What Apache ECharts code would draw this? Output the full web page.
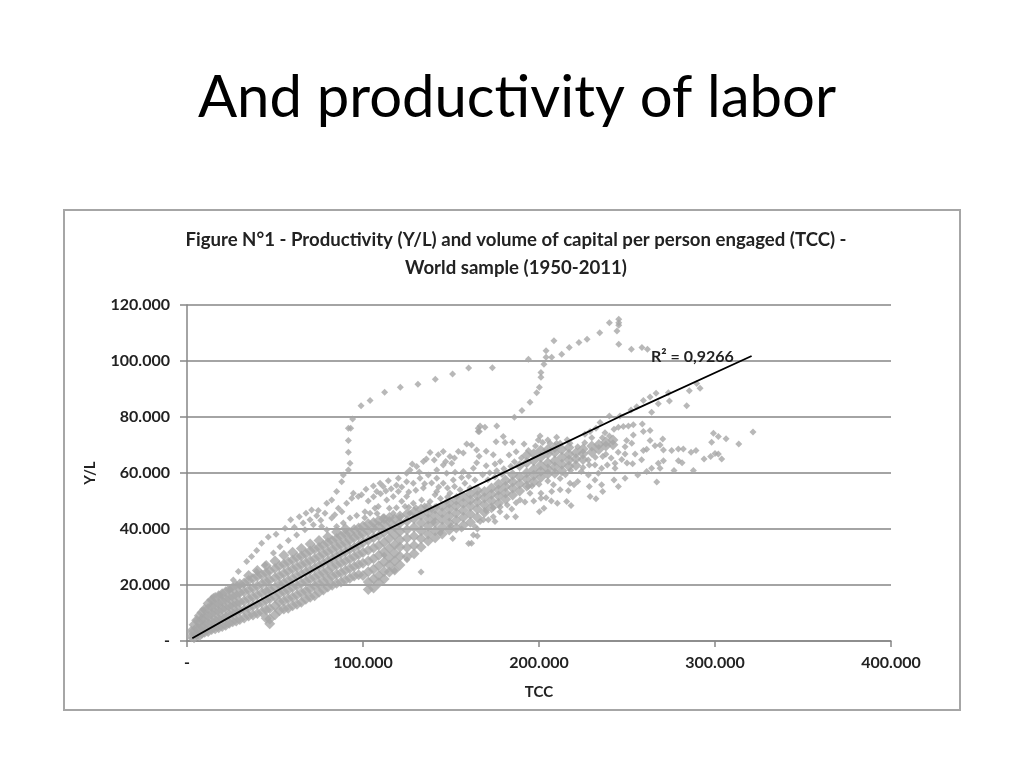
<!DOCTYPE html>
<html><head><meta charset="utf-8">
<style>html,body{margin:0;padding:0;background:#fff}#c{width:1024px;height:768px}</style>
<script src="https://cdn.jsdelivr.net/npm/echarts@6/dist/echarts.min.js"></script>
</head><body><div id="c"></div>
<script>
const slideTitle = "And productivity of labor";
const figureTitle = "Figure N°1 - Productivity (Y/L) and volume of capital per person engaged (TCC) -\nWorld sample (1950-2011)";
const xName = "TCC", yName = "Y/L", r2Text = "R² = 0,9266";
const xTickLabels = ["-", "100.000", "200.000", "300.000", "400.000"];
const yTickLabels = ["-", "20.000", "40.000", "60.000", "80.000", "100.000", "120.000"];
const trendLine = [[3,1],[25,8.8],[50,17.5],[100,35.5],[150,51],[200,66.3],[246,80.2],[320.8,101.8]];

// columns of the dense mass: x followed by the y values seen in that column
const denseColumns = [
[2.5,1.5,3.5],[4,1.2,3.6,5.8],[5.5,2.3,4.6,7.4],[7,1.9,4.2,6.7,9],[8.5,2.8,5.3,7.9,10.2],[10,3.1,5.7,8.4,11.3],
[12,3.4,6.1,8.8,11.6,13.4],[14,4.1,6.9,9.7,12.3,14.6],[16,4.4,7.2,10.1,12.9,15.5],[18,4.7,7.8,10.6,13.3,16.2],
[20,5.2,8.3,11.3,14.1,16.9],[22,5.6,8.6,11.7,14.8,17.6],[24,6.3,9.4,12.4,15.2,18.4],[26,6.9,9.8,12.7,15.9,19],
[28,7.1,10.3,13.4,16.4,19.7],[30,7.7,10.9,13.9,17.2,20.4],[32.5,8.2,11.2,14.3,17.6,20.7],[35,8.9,11.8,15.1,18.2,21.6,23.4],
[37.5,9.3,12.6,15.7,18.9,22.3],[40,9.8,13.1,16.4,19.6,23.1,25.2],[42.5,10.4,13.7,17.1,20.4,23.6],[45,8.1,11.2,14.6,17.8,21.2,24.4,27],
[47,6.2,7.9,11.6,15.1,18.4,21.8,25.1],[50,9.4,12.6,15.8,19.1,22.6,25.9,28.6],[52.5,10.8,13.9,16.9,20.2,23.3,26.8],
[55,11.4,14.3,17.6,20.7,24.1,27.4,30.6],[57.5,11.7,15.1,18.2,21.6,24.9,28.2],[60,12.6,15.6,19.1,22.3,25.7,28.9,31.7],
[62.5,13.1,16.4,19.7,23.2,26.4,29.8],[65,13.8,17.2,20.6,23.9,27.2,30.4,33],[67.5,14.9,17.9,21.3,24.6,27.9,31.2],
[70,15.6,18.7,22.1,25.4,28.7,32.1,34.6],[72.5,16.2,19.6,22.8,26.1,29.4,32.8],[75,17.4,20.4,23.7,26.9,30.2,33.4,35.9],
[77.5,18.2,21.3,24.4,27.8,31.1,34.2],[80,19.3,22.1,25.2,28.6,31.9,35.1,37.2],[82.5,19.9,23.1,26.3,29.4,32.7,35.8],
[85,20.6,23.8,27.1,30.3,33.6,36.6,38.9],[87.5,21.1,24.4,27.9,31.2,34.4,37.4],[90,21.8,25.2,28.6,31.9,35.1,38.2,40.1],
[92.5,22.4,25.9,29.3,32.8,36.1,38.7],[95,23.2,26.6,30.1,33.4,36.9,39.8],[97.5,23.7,27.3,30.9,34.2,37.7,40.4],
[100,23.4,27.8,31.6,35.2,38.3,41.1],[103,18.4,21.1,24.7,28.6,32.4,36,39.2,41.9],[106,18.9,22.1,25.6,29.4,33.2,36.9,40.1,42.3],
[109,20.8,23.4,26.9,30.6,34.1,37.6,40.9,43],[112,22.1,24.8,28.2,31.8,35.3,38.8,41.8,43.7],[115,24.6,27.1,29.8,33.2,36.6,39.7,42.7,44.1],
[118,25.4,28.6,31.4,34.4,37.9,40.9,43.6],[121,27.1,30.3,33.6,36.2,39.1,42.1,44.6],[125,30.1,33.4,36.7,39.7,42.9,45.4],
[129,31.2,34.1,37.4,40.6,43.7,46.1],[133,33.6,36.6,39.4,42.1,44.9,47.1],[137,35.7,38.2,41.1,43.6,45.9,47.8],
[141,36.9,39.4,42.3,44.7,47.2],[145,38.2,40.7,43.4,45.8,48.1],[149,39.6,42.1,44.6,47.1,49.3],[153,40.4,43.1,45.7,48.2,50.4],
[157,41.3,44.2,46.7,49.2,51.6],[161,42.4,45.4,48.1,50.4,52.6],[165,44.1,47.1,49.6,51.9,53.8],[169,45.9,48.7,51.2,53.4],
[173,47.6,50.1,52.4,54.6],[177,49.2,51.8,53.9,56.1],[181,50.6,52.9,55.2,57.4],[185,52.1,54.6,56.9,59.4],[189,53.6,56.2,58.7,62.6],
[193,55.4,57.8,60.1,63.7,66.3],[197,56.9,59.2,61.4,64.4,66.9],[201,58.4,60.6,62.8,65.6,68.1],[205,59.6,61.4,63.7,66.9,68.4],
[209,59.9,62.1,64.4,67.3,69.1],[213,60.8,63.1,65.6,68.4],[217,62.4,64.6,66.7,69.1],[221,62.7,65.1,67.2],[225,64.8,66.9,68.6],
[230,67.4,69.6],[234,68.4,70.2],[238,69.6,71.1],[242,70.1,71.8]
];

// upper strands and isolated marks
const strandSpike = [[5.5,7.6],[15,15.9],[26.3,21.8],[29.2,24.8],[33.9,28.4],[36.7,30.2],[39.6,32.3],[42.4,34.9],[46.2,37.1],[50.6,38.1],[55.7,40.3],[58.9,43.3],[63.8,44.4],[67.6,45.6],[70.8,46.8],[74.6,46.6],[79.4,49.2],[82.2,50.4],[85,53.4],[87.9,56.9],[88.8,59.3],[91.7,61.1],[92.6,63.5],[91.7,67.4],[91.7,71.6],[91.7,76],[93,76],[94.1,79.3],[98.9,84],[104,85.9],[112.3,88.8],[121.2,90.6],[131.2,91.7],[141.1,93.5],[150.9,95.4],[160,97.5],[173.5,97.6]];
const strandTop = [[186,79.9],[190.3,82.3],[194.9,85.3],[198.7,88.7],[200.2,90.6],[201.1,94.2],[201.1,95.9],[202.8,98.8],[204,101.3],[204,103.7],[194,100.6],[207.2,101.3],[208.5,107.2],[212.9,102.4],[217.2,104.8],[222.7,106.6],[227.3,107.8],[234.5,110.1],[240,113.7],[245.3,114.9],[245.3,113.7],[245.3,112.8],[244.3,110.7],[245.3,106],[252.5,104.2],[258.5,104.8],[261.6,104.2]];
const strandB = [[94.5,52.8],[99.2,52.2],[101.7,54.2],[105.9,55.4],[109.7,56.3],[114.4,57.2],[120.1,58.1],[124.8,59.9],[126.7,61.1],[130.5,62.3],[134.3,64.1],[138.1,67.3],[142.8,66.5],[145.6,67.7],[149.4,65.9],[154.2,67.7],[158.9,70.4],[161.7,70],[164.6,68.2],[165.5,76],[165.5,74.8],[136,65],[140.5,64.6],[147,64.1],[152,65.4],[157,67.1],[128,63.2],[132,60.4]];
const strandC = [[107.8,53.4],[111.5,55.2],[124.8,56.9],[128.6,56.3],[132.4,58.1],[137.1,59.3],[141.9,61.1],[145.6,62.9],[150.4,63.5],[147.5,59.9],[152.3,60.3],[157,60.5],[162.7,61.7],[164.6,63.7],[145.6,56.3],[151.3,57.5],[157.9,56.3],[163.6,57.5],[141.9,58.1],[134.3,54.6],[141.9,53.4],[140.9,52.2],[149.4,52.8],[155.1,54],[160.8,54.6],[120.1,53.4],[117.2,51.6],[113.5,50.4],[108.7,48],[124.8,51.6],[128.6,49.2],[133.3,50.4],[138.1,49.8],[141.9,48],[147.5,49.8],[153.2,51.6],[123.9,48],[117.2,45.6],[111.5,44.4],[121,44.4],[126.7,45.6]];
const strandD = [[69.9,43.3],[73.7,44.7],[78.4,45.6],[82.2,43.9],[86,47.4],[90.7,49.2],[93.6,51],[97.3,51.6],[79.4,39.7],[85,40.9],[88.8,42.1],[92.6,43.9],[96.4,44.8],[101.1,46.2],[106.8,47.4],[32,20],[39.6,24.8],[44.3,27.2],[49.1,31.4],[52.8,33.7],[57.6,35.9],[62.3,37.9],[67,39.7],[71.8,41.5],[76.5,40.9],[9.3,11.1],[14,14.7],[18.7,16.5],[24.4,18.3],[30.1,19.5],[84,45.1],[88,46.2],[76,43.1],[66,42.1],[61,40.6]];
const scatterRight = [[166.5,76.8],[169.3,76.3],[166.1,74.8],[176,76.8],[179.7,73],[175.6,71.2],[180.7,70.9],[185,71],[191.5,70.4],[200.6,73.2],[199.6,71.8],[202.1,70.9],[206.3,70.6],[210,72.8],[210,70.6],[217.6,70.6],[226.1,73.8],[229,74.8],[232.4,76],[234.7,78],[240,80.4],[246,80.4],[252.3,82.5],[255.5,83.7],[259.3,85.9],[263.1,87.1],[266.5,88.5],[267.8,84.7],[273.5,88.7],[274.1,85.7],[283.9,84],[285.4,89.4],[289.6,92],[291.5,90.3],[264,81.7],[242.6,75.6],[245.1,76.3],[247.9,76.6],[250.8,76.8],[253.6,77.2],[258.7,77.5],[237.5,74.4],[253.6,73.6],[259.3,74.8],[263.1,75.2],[270.3,72.1],[263.1,71.6],[268.8,70],[265.9,69.7],[270.7,68.2],[261.2,68.5],[259.3,68],[258.3,64.7],[253.2,63.3],[254.6,66.8],[248.9,69.4],[248.9,66.8],[249.8,71.6],[252.7,70.6],[275.4,68],[279.2,68.6],[282,68.6],[286.4,67.4],[289.2,68],[299.1,74.2],[301.9,73],[298.1,71],[306.3,72.2],[313.5,70.4],[321.6,74.6],[293.8,65],[297.5,65.9],[300,67],[301.9,66.8],[303.8,65],[279.2,64.4],[281.3,63.7],[276.7,60.9],[287.7,60.9],[266.9,56.8],[268.8,61.7],[270.7,64.4],[267.8,63.5],[264,61.7],[261.2,60.5],[256.1,59.3],[248.9,58.1],[242.6,57.5],[245.1,55.2],[243.2,63.5],[243.2,61.7],[238.8,62.9],[236.2,65.9],[235.6,61.7],[231.8,62.9],[228.6,62.9],[233.7,59.9],[231.8,57.5],[228.1,59.3],[228.6,55.2],[235.6,55.8],[236.2,53.4],[229,51.6],[232.4,50.8],[217.6,56.3],[219.9,55.8],[216.7,53.7],[208.2,55.8],[207.2,53.4],[210.4,49.2],[215.7,49.8],[218.2,48.4],[200.2,46.2],[202.8,47.4],[201.1,52.8],[201.1,51],[194.9,52.8],[193.9,55.2],[189.2,50.4],[184.5,47.1],[181.6,44.4],[186.7,44.4],[177.8,46.2],[174,44.4],[175,42.7],[171.2,43.3],[168.4,43.3],[166.5,42.7],[163.6,40.9],[162.7,37.9],[161.7,34.9]];
const scatterLow = [[125,29],[133,24.6],[151,36.6],[160,34.8],[165,37.5],[118,25.2],[112,30.6],[144,38.6],[150,41.2],[156,40],[140,42.4]];
const scatterMid = [[101,44],[104,45.6],[108,45.5],[103,50],[106,51.5],[110,52.6],[113,53.6],[116,54.4],[119,55.6],[122,55],[115,47.4],[119,47.6],[122,49.9],[126,53.2],[130,53.8],[135,56.2],[139,56.4],[143,55],[148,54.6],[152,55.2],[156,58.4],[160,58.8],[126,47.8],[130,47.6],[135,48.2],[139,47],[144,50.9],[148,51.4],[168,59.4],[172,60.1],[176,60.8],[180,61.5],[184,62.4],[171,57.6],[175,58.6],[179,59.5],[186,64],[190,65.4],[194,68],[198,69.6],[178,64.1],[183,66.4],[187,67.6],[175,63.2],[170,62.6],[166,66],[170,67.8],[174,66.5],[205,71.8],[212,70.6],[216,71.9],[222,69.4],[226,70.8],[230,72.6],[236,72.6],[240,73.2],[165,40],[170,46.5],[174,47.6],[178,47.9],[182,48.6],[187,49.4],[192,49.6],[197,50],[204,51.2],[207,50],[212,54],[222,57],[224,60.5],[215,59.4],[218,61],[212,58],[205,57.1],[200,56],[196,55.4],[225,62],[228,64.6],[232,65.6],[238,66.7],[241,65.4],[245,67.4],[247,64.8],[250,63.6]];

const xStep = 100000, yStep = 20000;
const k = v => v.map(p => [p[0]*1000, p[1]*1000]);
const denseData = [];
denseColumns.forEach(col => col.slice(1).forEach(y => denseData.push([col[0]*1000, y*1000])));
const sparseData = k([].concat(strandSpike, strandTop, strandB, strandC, strandD, scatterRight, scatterLow, scatterMid));

const FONT = "Lato";
const GREY = "#a6a6a6", AXIS = "#868686";
const chart = echarts.init(document.getElementById('c'), null, {renderer:'canvas'});
chart.setOption({
  animation:false,
  backgroundColor:'#fff',
  title:[
    {text:slideTitle,left:512,top:64,textAlign:'center',textStyle:{fontFamily:FONT,fontSize:58,fontWeight:'normal',color:'#000'}},
    {text:figureTitle,left:511,top:221,textAlign:'center',textStyle:{fontFamily:FONT,fontSize:18.6,fontWeight:'bold',color:'#222',lineHeight:28}}
  ],
  graphic:[
    {type:'rect',z:-1,shape:{x:64,y:210,width:896,height:500},style:{fill:'#fff',stroke:'#a6a6a6',lineWidth:2}},
    {type:'text',z:20,left:651,top:349,style:{text:r2Text,font:'bold 16px Lato',fill:'#222'}}
  ],
  grid:{left:187,top:305,width:704,height:336,containLabel:false},
  xAxis:{type:'value',min:0,max:400000,interval:xStep,name:xName,nameLocation:'middle',nameGap:44,
    nameTextStyle:{fontFamily:FONT,fontSize:15,fontWeight:'bold',color:'#222'},
    axisLine:{show:true,onZero:false,lineStyle:{color:AXIS,width:1.5}},
    axisTick:{show:true,length:6,lineStyle:{color:AXIS,width:1.5}},
    axisLabel:{margin:14,fontFamily:FONT,fontSize:16,fontWeight:'bold',color:'#222',formatter:(v)=>xTickLabels[Math.round(v/xStep)]},
    splitLine:{show:false}},
  yAxis:{type:'value',min:0,max:120000,interval:yStep,name:yName,nameLocation:'middle',nameGap:89,nameRotate:90,
    nameTextStyle:{fontFamily:FONT,fontSize:15,fontWeight:'bold',color:'#222'},
    axisLine:{show:true,onZero:false,lineStyle:{color:AXIS,width:1.5}},
    axisTick:{show:true,length:7,lineStyle:{color:AXIS,width:1.5}},
    axisLabel:{margin:17,fontFamily:FONT,fontSize:16,fontWeight:'bold',color:'#222',formatter:(v)=>yTickLabels[Math.round(v/yStep)]},
    splitLine:{show:true,lineStyle:{color:AXIS,width:1.5}}},
  series:[
    {type:'scatter',symbol:'diamond',symbolSize:11,data:denseData,itemStyle:{color:GREY},silent:true,z:3},
    {type:'scatter',symbol:'diamond',symbolSize:7,data:sparseData,itemStyle:{color:GREY},silent:true,z:3},
    {type:'line',data:k(trendLine),showSymbol:false,symbol:'none',smooth:false,lineStyle:{color:'#000',width:1.8},silent:true,z:5}
  ]
});
</script></body></html>
